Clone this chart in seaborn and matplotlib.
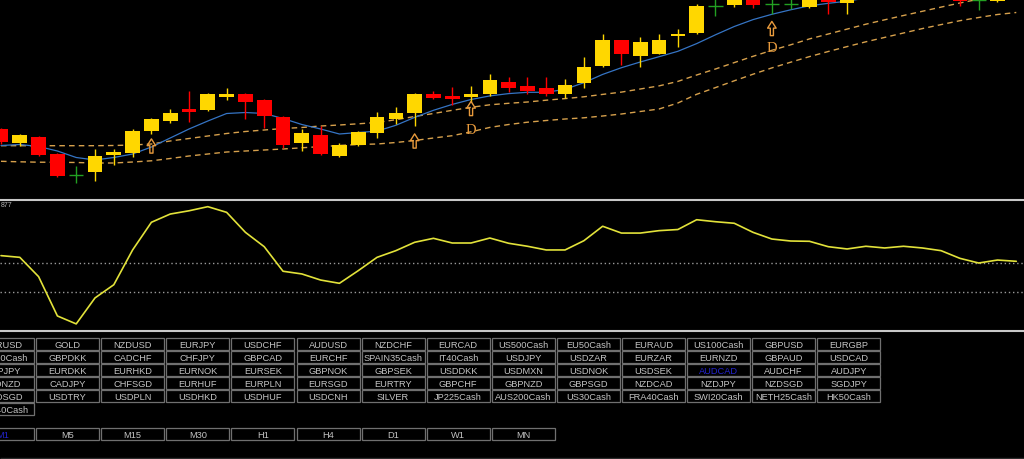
import numpy as np
import pandas as pd
import matplotlib
matplotlib.use("Agg")
import matplotlib.pyplot as plt
from matplotlib.patches import Rectangle
from matplotlib.path import Path
import seaborn as sns

# ---------------------------------------------------------------- price data
# OHLC per bar, in price points
opens = [70, 56, 62, 45, 24, 27, 44, 46, 68, 78, 90, 89, 102, 105, 99, 82, 56, 64, 43, 54,
         66, 80, 86, 105, 103, 102, 105, 117, 113, 111, 105, 116, 133, 159, 143, 145, 163, 166,
         193, 194, 203, 195, 195, 192, 208, 196, 206, 224, 215, 222, 220, 205, 199, 198, 203]
highs = [71, 65, 63, 46, 33, 50, 50, 70, 81, 90, 108, 106, 111, 106, 100, 83, 70, 73, 56, 68,
         87, 92, 106, 108, 112, 113, 125, 122, 122, 122, 120, 142, 165, 159, 162, 165, 170, 195,
         202, 208, 206, 205, 205, 208, 210, 209, 222, 227, 231, 230, 226, 208, 208, 209, 220]
lows = [55, 53, 43, 22, 16, 18, 34, 42, 65, 76, 77, 88, 99, 80, 71, 51, 48, 44, 42, 53,
        61, 75, 73, 100, 94, 97, 103, 107, 105, 103, 101, 111, 132, 134, 132, 145, 152, 165,
        183, 192, 191, 185, 190, 191, 185, 185, 202, 203, 208, 212, 202, 193, 189, 197, 201]
closes = [57, 64, 44, 23, 24, 43, 47, 68, 80, 86, 87, 105, 105, 97, 83, 54, 66, 45, 54, 67,
          82, 86, 105, 101, 100, 105, 119, 111, 108, 105, 114, 132, 159, 145, 157, 159, 165, 193,
          193, 204, 194, 195, 195, 205, 197, 206, 218, 212, 228, 222, 208, 198, 199, 205, 215]

# moving averages (fast solid, two slow dashed)
ma_fast = [53.5, 54.5, 52.5, 48, 41.5, 39, 41.5, 45, 52, 61, 70, 78, 85.5, 86.5, 85.5, 80.5,
           74.5, 70, 65, 66.5, 67.9, 73.7, 81.6, 88.7, 94.6, 99.5, 103.1, 105.4, 106.7, 106.7,
           109.7, 116.3, 124.6, 131.3, 137, 142.3, 147.7, 155.4, 164.2, 172.5, 179.4, 184.7,
           189.2, 193.2, 195.7, 197.8, 201, 203, 205, 207, 209, 211, 212, 213, 214]
ma_upper = [53.3, 53.3, 53.3, 53.3, 53.3, 53.3, 53.5, 54, 55, 58, 60.5, 63, 65.5, 67.5, 69,
            70.5, 71.5, 73, 74, 75.2, 76.5, 79.3, 82.5, 85.5, 88.7, 91.7, 94.2, 95.7, 97, 98.8,
            100.4, 102.2, 104.6, 106.9, 110, 113.1, 117.6, 124, 130, 136.4, 142.7, 148.7, 154.2,
            160.1, 165, 169.9, 174.8, 179.2, 183.5, 187.7, 191.9, 196, 199.8, 203.5, 207]
ma_lower = [37.7, 37.2, 36.8, 36.7, 36.5, 36, 36, 37, 38.2, 40.5, 43, 45, 47, 48, 49, 50,
            51.2, 52.4, 53.5, 54.5, 55, 56.5, 58.5, 61, 63.3, 67.2, 71.6, 74.5, 76.8, 78.5, 80,
            81.2, 83, 85, 87.5, 90, 96, 104.7, 111.4, 118.2, 124.8, 131.1, 136.8, 142.4, 147.5,
            152.4, 157.2, 161.6, 166, 170.4, 174.4, 178.3, 181.5, 184.5, 186.5]

# signal markers: up arrows and "D" tags
arrow_bars = [8, 22, 25, 41]
arrow_prices = [53, 58, 90.5, 170.5]
tag_bars = [25, 41]
tag_prices = [70, 152]
tag_text = "D"

# oscillator sub-window
oscillator = [55.4, 54.2, 40.6, 12.9, 7.3, 25.6, 34.9, 59.4, 78.9, 84.7, 87.0, 89.9, 85.9,
              71.8, 61.7, 44.4, 42.5, 38.2, 35.9, 44.8, 54.2, 58.9, 64.8, 67.6, 64.3, 64.3,
              67.8, 64.1, 62.0, 59.4, 59.4, 65.9, 76.1, 71.3, 71.3, 73.0, 73.8, 80.7, 79.3,
              78.2, 71.8, 67.1, 65.7, 65.5, 61.7, 60.1, 62.0, 60.8, 62.0, 60.8, 58.9, 53.5,
              50.2, 52.3, 51.4]
osc_levels = [50, 30]
osc_caption = "877"

# symbol / timeframe switch panel
symbol_rows = [
    ["EURUSD", "GOLD", "NZDUSD", "EURJPY", "USDCHF", "AUDUSD", "NZDCHF", "EURCAD",
     "US500Cash", "EU50Cash", "EURAUD", "US100Cash", "GBPUSD", "EURGBP"],
    ["UK100Cash", "GBPDKK", "CADCHF", "CHFJPY", "GBPCAD", "EURCHF", "SPAIN35Cash", "IT40Cash",
     "USDJPY", "USDZAR", "EURZAR", "EURNZD", "GBPAUD", "USDCAD"],
    ["GBPJPY", "EURDKK", "EURHKD", "EURNOK", "EURSEK", "GBPNOK", "GBPSEK", "USDDKK",
     "USDMXN", "USDNOK", "USDSEK", "AUDCAD", "AUDCHF", "AUDJPY"],
    ["AUDNZD", "CADJPY", "CHFSGD", "EURHUF", "EURPLN", "EURSGD", "EURTRY", "GBPCHF",
     "GBPNZD", "GBPSGD", "NZDCAD", "NZDJPY", "NZDSGD", "SGDJPY"],
    ["USDSGD", "USDTRY", "USDPLN", "USDHKD", "USDHUF", "USDCNH", "SILVER", "JP225Cash",
     "AUS200Cash", "US30Cash", "FRA40Cash", "SWI20Cash", "NETH25Cash", "HK50Cash"],
    ["GER40Cash"],
]
active_symbol = "AUDCAD"
timeframes = ["M1", "M5", "M15", "M30", "H1", "H4", "D1", "W1", "MN"]
active_timeframe = "M1"

# ---------------------------------------------------------------- styling
BULL, BEAR, FLAT = "#ffd700", "#ff0000", "#22a022"
FAST_C, SLOW_C, SIG_C = "#3574c4", "#d6a04c", "#e89a3c"
OSC_C = "#e2e23a"
BTN_EDGE, BTN_TEXT, BTN_ACTIVE = "#707070", "#c4c4c4", "#2323cc"

sns.set_theme(style="dark", rc={"axes.facecolor": "black", "figure.facecolor": "black",
                                "savefig.facecolor": "black"})
plt.rcParams["font.family"] = ["Liberation Sans", "DejaVu Sans"]

W, H = 1024, 460
fig = plt.figure(figsize=(W / 100, H / 100), dpi=100)

bars = pd.DataFrame({"open": opens, "high": highs, "low": lows, "close": closes})
bars["bar"] = np.arange(len(bars))
x_lim = (-0.053, len(bars) - 0.59)

# main price window
ax_p = fig.add_axes([0, 1 - 199 / H, 1, 199 / H])
ax_p.set_facecolor("black")
ax_p.set_xlim(*x_lim)
ax_p.set_ylim(1, 200)

move = np.sign(bars["close"] - bars["open"])
bar_colors = np.where(move > 0, BULL, np.where(move < 0, BEAR, FLAT))

sns.lineplot(x=bars["bar"], y=ma_lower, ax=ax_p, color=SLOW_C, lw=1.0,
             linestyle=(0, (4, 3)), zorder=1)
sns.lineplot(x=bars["bar"], y=ma_upper, ax=ax_p, color=SLOW_C, lw=1.0,
             linestyle=(0, (4, 3)), zorder=1)
sns.lineplot(x=bars["bar"], y=ma_fast, ax=ax_p, color=FAST_C, lw=0.9, zorder=1)

ax_p.vlines(bars["bar"], bars["low"], bars["high"], colors=bar_colors, lw=1.0, zorder=2)
body = move != 0
ax_p.bar(bars["bar"][body], (bars["close"] - bars["open"]).abs()[body],
         bottom=np.minimum(bars["open"], bars["close"])[body], width=0.78,
         color=bar_colors[body.values], linewidth=0, zorder=3)
doji = bars[move == 0]
ax_p.hlines(doji["close"], doji["bar"] - 0.38, doji["bar"] + 0.38, colors=FLAT, lw=1.0, zorder=3)

# hollow up-arrow signal marker
arrow_shape = Path([(-0.22, -1), (0.22, -1), (0.22, 0.05), (0.6, 0.05), (0, 1),
                    (-0.6, 0.05), (-0.22, 0.05), (-0.22, -1)],
                   [Path.MOVETO] + [Path.LINETO] * 6 + [Path.CLOSEPOLY])
ax_p.scatter(arrow_bars, arrow_prices, marker=arrow_shape, s=105, facecolors="none",
             edgecolors=SIG_C, linewidths=1.0, zorder=4)
for b, p in zip(tag_bars, tag_prices):
    ax_p.text(b, p, tag_text, color=SIG_C, fontsize=10.5, family="Liberation Serif",
              ha="center", va="center", zorder=4)
ax_p.axis("off")

# oscillator window
ax_o = fig.add_axes([0, 1 - 332 / H, 1, 132 / H])
ax_o.set_facecolor("black")
ax_o.set_xlim(*x_lim)
ax_o.set_ylim(2.3, 95.3)
ax_o.hlines(osc_levels, *x_lim, colors="#9a9a9a", linestyles=(0, (1, 2)), lw=1.0)
sns.lineplot(x=bars["bar"], y=oscillator, ax=ax_o, color=OSC_C, lw=1.2)
ax_o.axis("off")

# overlay in pixel units: window separators and the switch panel
ui = fig.add_axes([0, 0, 1, 1])
ui.set_xlim(0, W)
ui.set_ylim(H, 0)
ui.axis("off")
ui.patch.set_alpha(0)

ui.hlines([200.7, 331.7], 0, W, colors="#c8c8c8", lw=1.5)
ui.hlines([458.5], 0, W, colors="#2c2c2c", lw=1.0)
ui.text(0.5, 206, osc_caption, color="#b4b4b4", fontsize=5, ha="left", va="center")

COL0, COL_STEP, BOX_W, BOX_H = -29, 65.1, 63, 12


def button(col, top, label, active):
    left = COL0 + col * COL_STEP
    ui.add_patch(Rectangle((left, top), BOX_W, BOX_H, facecolor="black",
                           edgecolor=BTN_EDGE, lw=0.9))
    ui.text(left + BOX_W / 2, top + BOX_H / 2 + 0.5, label, fontsize=6.7,
            color=BTN_ACTIVE if active else BTN_TEXT, ha="center", va="center")


for r, row in enumerate(symbol_rows):
    for c, name in enumerate(row):
        button(c, 339 + 13 * r, name, name == active_symbol)

for c, tf in enumerate(timeframes):
    button(c, 429, tf, tf == active_timeframe)

fig.savefig("out.png", dpi=100, facecolor="black")
